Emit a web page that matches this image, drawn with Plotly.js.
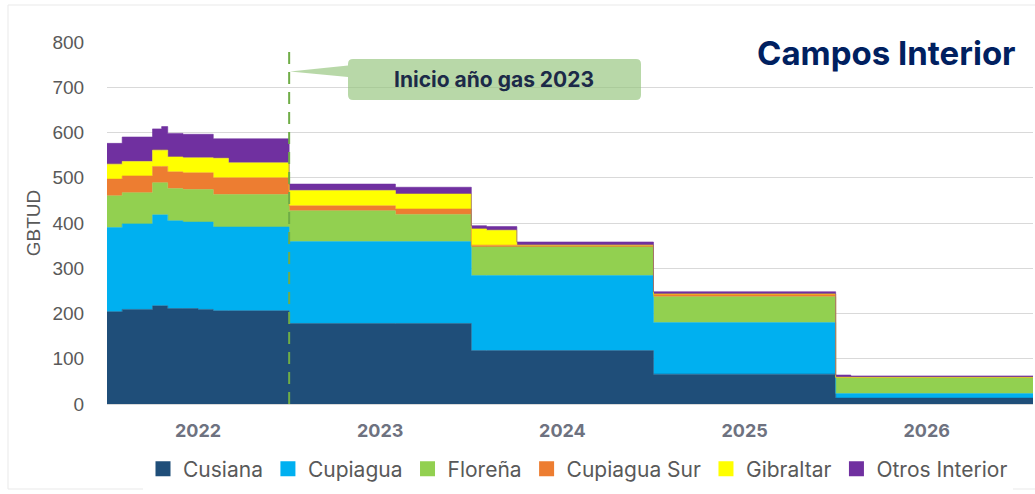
<!DOCTYPE html>
<html>
<head>
<meta charset="utf-8">
<script src="https://cdn.plot.ly/plotly-3.0.1.min.js"></script>
<style>
html,body{margin:0;padding:0;background:#ffffff;}
#chart{width:1035px;height:494px;}
</style>
</head>
<body>
<div id="chart"></div>
<script>
// Month index (0 = Jan 2022); each value holds until the next index (step chart)
const monthIndex   = [0,   1,   3,   3.6, 4,   5,   6,   7,   8,   12,  19,  24,  25,  27,  36,  48,  49,  61];
const cusiana      = [204, 209, 217, 217, 211, 211, 209, 206, 206, 178, 178, 118, 118, 118, 66,  13,  13,  13];
const cupiagua     = [186, 189, 201, 201, 194, 191, 193, 185, 185, 181, 181, 166, 166, 166, 114, 10,  10,  10];
const florena      = [70,  69,  71,  71,  71,  72,  72,  72,  72,  68,  60,  63,  63,  63,  57,  36,  36,  36];
const cupiaguaSur  = [37,  37,  36,  36,  37,  37,  37,  37,  37,  11,  12,  4,   4,   4,   6,   0,   0,   0];
const gibraltar    = [33,  32,  36,  36,  33,  33,  33,  43,  33,  34,  33,  36,  33,  0,   0,   0,   0,   0];
const otrosInterior= [46,  54,  47,  52,  52,  52,  52,  43,  53,  14,  15,  7,   8,   7,   5,   5,   3,   3];

const seriesNames  = ['Cusiana','Cupiagua','Floreña','Cupiagua Sur','Gibraltar','Otros Interior'];
const seriesValues = [cusiana, cupiagua, florena, cupiaguaSur, gibraltar, otrosInterior];
const seriesColors = ['#1f4e79','#00b0f0','#92d050','#ed7d31','#ffff00','#7030a0'];

const yearLabels  = ['2022','2023','2024','2025','2026'];
const yearCenters = [6, 18, 30, 42, 54];
const gasYearStart = 12;
const gasYearLineTop = 787;

// plot-area pixel helpers for decorations (layout only)
const L = 107, R = 1033, T = 42, B = 404;
const px = v => (v - L) / (R - L);
const py = v => (B - v) / (B - T);

const traces = [];
seriesNames.forEach((name, i) => {
  traces.push({
    type: 'scatter', mode: 'lines', name: name,
    x: monthIndex, y: seriesValues[i],
    stackgroup: 'one', line: {shape: 'hv', width: 0.6, color: seriesColors[i]},
    fillcolor: seriesColors[i], showlegend: false, hoverinfo: 'x+y+name'
  });
});
// legend entries with square swatches
seriesNames.forEach((name, i) => {
  traces.push({
    type: 'scatter', mode: 'markers', name: name,
    x: [null], y: [null],
    marker: {symbol: 'square', size: 15, color: seriesColors[i]},
    showlegend: true, hoverinfo: 'skip'
  });
});

// rounded callout with pointer
function calloutPath(x0, x1, y0, y1, r, tipX, tipY, b0, b1) {
  const rx = r / (R - L), ry = r / (B - T);
  const X0 = px(x0), X1 = px(x1), Yt = py(y0), Yb = py(y1);
  return 'M' + (X0 + rx) + ',' + Yt +
    ' L' + (X1 - rx) + ',' + Yt +
    ' Q' + X1 + ',' + Yt + ' ' + X1 + ',' + (Yt - ry) +
    ' L' + X1 + ',' + (Yb + ry) +
    ' Q' + X1 + ',' + Yb + ' ' + (X1 - rx) + ',' + Yb +
    ' L' + (X0 + rx) + ',' + Yb +
    ' Q' + X0 + ',' + Yb + ' ' + X0 + ',' + (Yb + ry) +
    ' L' + X0 + ',' + py(b1) +
    ' L' + px(tipX) + ',' + py(tipY) +
    ' L' + X0 + ',' + py(b0) +
    ' L' + X0 + ',' + (Yt - ry) +
    ' Q' + X0 + ',' + Yt + ' ' + (X0 + rx) + ',' + Yt + ' Z';
}

const layout = {
  width: 1035, height: 494,
  margin: {l: L, r: 1035 - R, t: T, b: 494 - B, pad: 0},
  paper_bgcolor: '#ffffff', plot_bgcolor: '#ffffff',
  showlegend: true,
  legend: {
    orientation: 'h', x: px(578), xanchor: 'center', xref: 'paper',
    y: py(469), yanchor: 'middle',
    font: {family: 'Inter, Open Sans, sans-serif', size: 21, color: '#595959'},
    traceorder: 'normal', itemwidth: 30
  },
  xaxis: {
    range: [0, 61], fixedrange: true,
    tickvals: yearCenters, ticktext: yearLabels,
    tickfont: {family: 'Inter, sans-serif', size: 18, color: '#6e7280', weight: 'bold'},
    ticks: 'outside', ticklen: 10, tickcolor: 'rgba(0,0,0,0)',
    showgrid: false, zeroline: false,
    showline: true, linecolor: '#d9d9d9', linewidth: 1
  },
  yaxis: {
    range: [0, 800], dtick: 100, fixedrange: true,
    tickfont: {family: 'Liberation Sans, Arial, sans-serif', size: 19, color: '#595959'},
    ticks: 'outside', ticklen: 18, tickcolor: 'rgba(0,0,0,0)',
    showgrid: true, gridcolor: '#d9d9d9', gridwidth: 1,
    zeroline: false, showline: false,
    title: {text: 'GBTUD', standoff: 6,
      font: {family: 'Liberation Sans, Arial, sans-serif', size: 19, color: '#595959'}}
  },
  shapes: [
    {type: 'rect', xref: 'paper', yref: 'paper', layer: 'below',
      x0: px(8), x1: px(1060), y0: py(489), y1: py(5),
      line: {color: '#e9e9e9', width: 1}, fillcolor: 'rgba(0,0,0,0)'},
    {type: 'line', xref: 'x', yref: 'y', x0: gasYearStart, x1: gasYearStart, y0: 0, y1: gasYearLineTop,
      line: {color: '#70ad47', width: 2, dash: '12px,8px'}, layer: 'above'},
    {type: 'path', xref: 'paper', yref: 'paper', layer: 'above',
      path: calloutPath(348, 641, 59, 100, 5, 290, 71.5, 65.5, 77),
      fillcolor: 'rgba(146,195,121,0.65)', line: {width: 0}},
    {type: 'rect', xref: 'paper', yref: 'paper', layer: 'above',
      x0: px(733), x1: px(1040), y0: py(80), y1: py(28),
      fillcolor: '#ffffff', line: {width: 0}}
  ],
  annotations: [
    {xref: 'paper', yref: 'paper', x: px(494), y: py(80), xanchor: 'center', yanchor: 'middle',
      text: '<b>Inicio año gas 2023</b>', showarrow: false,
      font: {family: 'Inter, sans-serif', size: 21, color: '#1c2a48'}},
    {xref: 'paper', yref: 'paper', x: px(886), y: py(53), xanchor: 'center', yanchor: 'middle',
      text: '<b>Campos Interior</b>', showarrow: false,
      font: {family: 'Inter, sans-serif', size: 33, color: '#002060'}}
  ]
};

Plotly.newPlot('chart', traces, layout, {displayModeBar: false, staticPlot: true});
</script>
</body>
</html>
